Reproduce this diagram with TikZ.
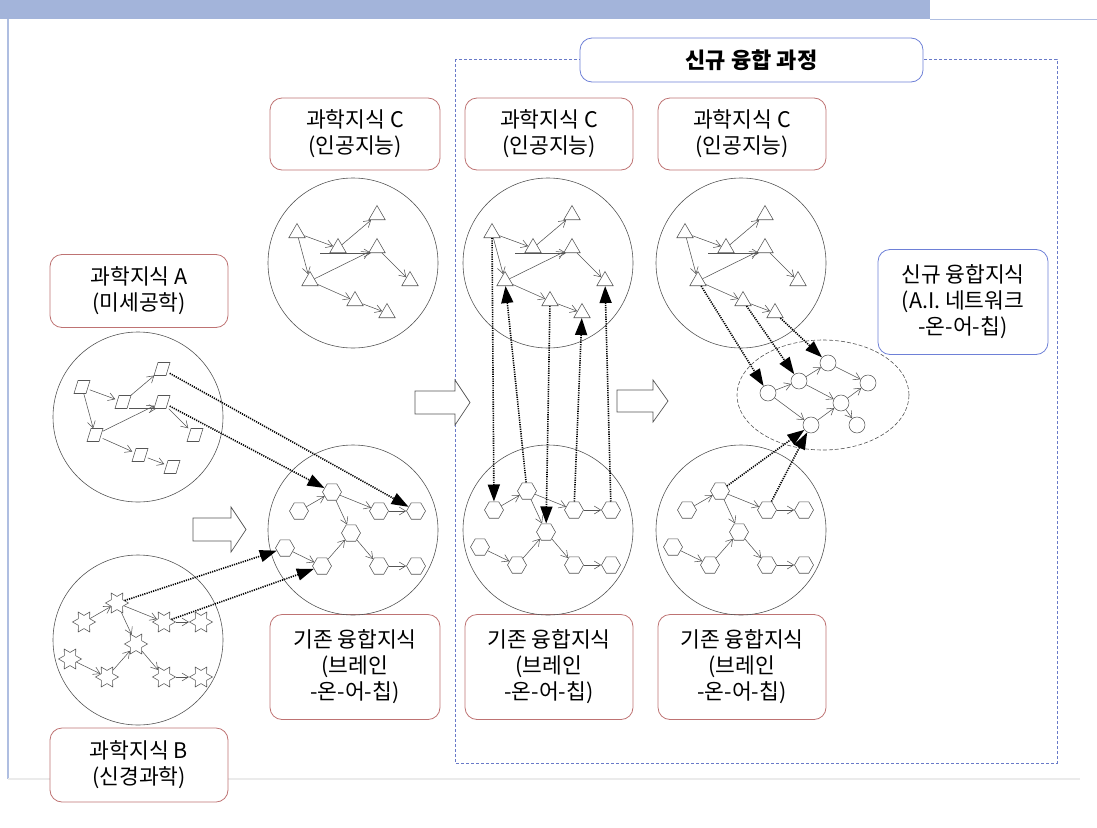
\documentclass[tikz,border=0pt]{standalone}
\usepackage{fontspec}
\newfontfamily\kr{Noto Sans CJK KR}
\usetikzlibrary{shapes.geometric,arrows.meta,calc}
\definecolor{bandc}{RGB}{163,180,218}
\definecolor{edgec}{RGB}{175,190,225}
\definecolor{boxred}{RGB}{190,115,115}
\definecolor{boxblue}{RGB}{110,128,215}
\definecolor{framec}{RGB}{105,122,200}
\definecolor{shapec}{RGB}{85,85,85}
\tikzset{
 bigc/.style={circle, draw=shapec, line width=0.6, minimum size=170, inner sep=0},
 sh/.style={draw=shapec, fill=white, line width=0.55, inner sep=0},
 tri/.style={sh, regular polygon, regular polygon sides=3, minimum size=19},
 hexa/.style={sh, regular polygon, regular polygon sides=6, minimum size=19},
 para/.style={rectangle, inner sep=0, minimum width=15, minimum height=13,
   append after command={\pgfextra{\draw[draw=shapec, fill=white, line width=0.55]
   ([xshift=-8,yshift=-6.5]\tikzlastnode.center) -- ([xshift=4,yshift=-6.5]\tikzlastnode.center) --
   ([xshift=8,yshift=6.5]\tikzlastnode.center) -- ([xshift=-4,yshift=6.5]\tikzlastnode.center) -- cycle;}}},
 starz/.style={sh, star, star points=6, star point ratio=1.75, minimum size=23, shape border rotate=30},
 dotc/.style={sh, circle, minimum size=16},
 sa/.style={draw=shapec, line width=0.55, -{Straight Barb[length=6.5pt,width=8pt]}},
 da/.style={draw=black, line width=1.6, dash pattern=on 1.2pt off 1.1pt, -{Triangle[length=17pt,width=12pt]}},
 tbox/.style={line width=0.8, rounded corners=12, fill=white, align=center, font=\kr\fontsize{21.5}{26}\selectfont, inner sep=0},
 rbox/.style={tbox, draw=boxred},
 bbox/.style={tbox, draw=boxblue},
 blockar/.style={draw=shapec, line width=0.7, fill=white},
}
\newcommand\trinet[3]{%
 \node[#2] (#1P1) at (297,233) {};
 \node[#2] (#1P2) at (377,215) {};
 \node[#2] (#1P3) at (338,248) {};
 \node[#2] (#1P4) at (377,248) {};
 \node[#2] (#1P5) at (310,281) {};
 \node[#2] (#1P6) at (410,281) {};
 \node[#2] (#1P7) at (355,301) {};
 \node[#2] (#1P8) at (387,313) {};
 \draw[sa] (#1P1) -- (#1P3);
 \draw[sa] (#1P1) -- (#1P5);
 \draw[sa] (#1P3) -- (#1P2);
 \draw[sa] ([xshift=#3]#1P3.south) -- ([xshift=-6]#1P4.south);
 \draw[sa] (#1P5) -- (#1P4);
 \draw[sa] (#1P4) -- (#1P6);
 \draw[sa] (#1P5) -- (#1P7);
 \draw[sa] (#1P7) -- (#1P8);
}
\newcommand\hexnet[2]{%
 \node[#2] (#1Q1) at (332,492) {};
 \node[#2] (#1Q2) at (299,511) {};
 \node[#2] (#1Q3) at (379,511) {};
 \node[#2] (#1Q4) at (416,511) {};
 \node[#2] (#1Q5) at (351,533) {};
 \node[#2] (#1Q6) at (285,548) {};
 \node[#2] (#1Q7) at (322,566) {};
 \node[#2] (#1Q8) at (379,566) {};
 \node[#2] (#1Q9) at (416,566) {};
 \draw[sa] (#1Q2) -- (#1Q1);
 \draw[sa] (#1Q1) -- (#1Q3);
 \draw[sa] (#1Q3) -- (#1Q4);
 \draw[sa] (#1Q1) -- (#1Q5);
 \draw[sa] (#1Q6) -- (#1Q7);
 \draw[sa] (#1Q7) -- (#1Q5);
 \draw[sa] (#1Q5) -- (#1Q8);
 \draw[sa] (#1Q8) -- (#1Q9);
}
\begin{document}
\begin{tikzpicture}[x=1pt,y=-1pt]
\useasboundingbox (0,0) rectangle (1097,827);
% page decoration
\fill[bandc] (0,0) rectangle (930,19);
\draw[edgec, line width=1] (930,19) -- (1097,19);
\draw[edgec, line width=1.2] (8,19) -- (8,779);
\draw[black!8, line width=1.5] (8,779) -- (1080,779);
% frame of new fusion process
\draw[framec, line width=0.9, dash pattern=on 3pt off 2pt] (455,59) rectangle (1057,763);
\node[bbox, minimum width=343, minimum height=44, font=\kr\bfseries\fontsize{22}{26}\selectfont] (title) at (751.5,60) {신규 융합 과정};
% text boxes
\node[rbox, minimum width=178, minimum height=73] (ka) at (139,291) {과학지식 A\\(미세공학)};
\node[rbox, minimum width=178, minimum height=74] (kb) at (139,765) {과학지식 B\\(신경과학)};
\node[rbox, minimum width=170, minimum height=72] (kc1) at (355,134) {과학지식 C\\(인공지능)};
\node[rbox, minimum width=168, minimum height=72] (kc2) at (549,134) {과학지식 C\\(인공지능)};
\node[rbox, minimum width=168, minimum height=72] (kc3) at (742,134) {과학지식 C\\(인공지능)};
\node[rbox, minimum width=170, minimum height=105] (ex1) at (355,667) {기존 융합지식\\(브레인\\-온-어-칩)};
\node[rbox, minimum width=168, minimum height=105] (ex2) at (549,667) {기존 융합지식\\(브레인\\-온-어-칩)};
\node[rbox, minimum width=168, minimum height=105] (ex3) at (742,667) {기존 융합지식\\(브레인\\-온-어-칩)};
\node[bbox, minimum width=170, minimum height=105] (nw) at (963,302) {신규 융합지식\\(A.I. 네트워크\\-온-어-칩)};
% big circles
\node[bigc] (cA) at (138,417) {};
\node[bigc] (cB) at (138,640) {};
\node[bigc] (cT1) at (353,263) {};
\node[bigc] (cH1) at (353,530) {};
\node[bigc] (cT2) at (548,263) {};
\node[bigc] (cH2) at (548,530) {};
\node[bigc] (cT3) at (741,263) {};
\node[bigc] (cH3) at (741,530) {};
\node[ellipse, draw=shapec, line width=0.6, dash pattern=on 4pt off 2pt, minimum width=172, minimum height=110, inner sep=0] (ell) at (823,395) {};
% block arrows
\draw[blockar] (193,518) -- (231,518) -- (231,507) -- (246,529.5) -- (231,552) -- (231,541) -- (193,541) -- cycle;
\draw[blockar] (415,391) -- (455,391) -- (455,380) -- (470,402.5) -- (455,425) -- (455,414) -- (415,414) -- cycle;
\draw[blockar] (617,390) -- (653,390) -- (653,380) -- (668,401) -- (653,422) -- (653,412) -- (617,412) -- cycle;
% networks
\trinet{a}{tri}{-18}
\begin{scope}[shift={(-215,154)}] \trinet{s}{para}{6} \end{scope}
\begin{scope}[shift={(195,0)}] \trinet{b}{tri}{-18} \end{scope}
\begin{scope}[shift={(388,0)}] \trinet{c}{tri}{-18} \end{scope}
\hexnet{ha}{hexa}
\begin{scope}[shift={(-215,111)}] \hexnet{st}{starz} \end{scope}
\begin{scope}[shift={(195,-1)}] \hexnet{hb}{hexa} \end{scope}
\begin{scope}[shift={(388,-1)}] \hexnet{hc}{hexa} \end{scope}
% new fusion network
\node[dotc] (C1) at (768,393) {};
\node[dotc] (C2) at (799,381) {};
\node[dotc] (C3) at (828,363) {};
\node[dotc] (C4) at (868,383) {};
\node[dotc] (C5) at (841,403) {};
\node[dotc] (C6) at (811,425) {};
\node[dotc] (C7) at (857,425) {};
\draw[sa] (C1) -- (C2);
\draw[sa] (C2) -- (C3);
\draw[sa] (C3) -- (C4);
\draw[sa] (C2) -- (C5);
\draw[sa] (C5) -- (C4);
\draw[sa] (C1) -- (C6);
\draw[sa] (C6) -- (C5);
\draw[sa] (C5) -- (C7);
% dotted transfers, column 1
\draw[da] (sP2) -- (haQ4);
\draw[da] (sP4) -- (haQ1);
\draw[da] (stQ1) -- (haQ6);
\draw[da] (stQ3) -- (haQ7);
% column 2
\draw[da] (bP1) -- (hbQ2);
\draw[da] (hbQ1) -- (bP5);
\draw[da] (bP7) -- (hbQ5);
\draw[da] (hbQ3) -- (bP8);
\draw[da] (hbQ4) -- (bP6);
% column 3
\draw[da] (cP5) -- (C1);
\draw[da] (cP7) -- (C2);
\draw[da] (cP8) -- (C3);
\draw[da] (hcQ1) -- (C6);
\draw[da] (hcQ3) -- (C6);
\end{tikzpicture}
\end{document}
